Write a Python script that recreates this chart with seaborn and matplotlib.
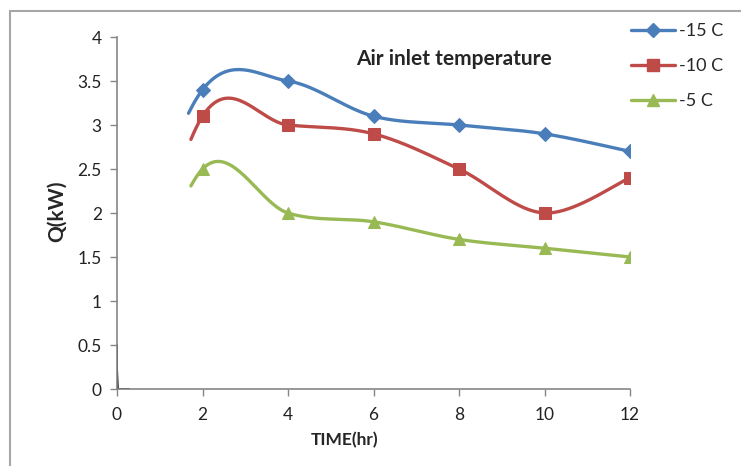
import matplotlib
matplotlib.use("Agg")
import matplotlib.pyplot as plt
from matplotlib.lines import Line2D
from matplotlib.patches import Rectangle
from matplotlib.ticker import FuncFormatter
import seaborn as sns
import numpy as np
import pandas as pd

# data (hidden first point at t=0, the visible curve starts after ~1.65 hr)
time_hr = [0, 2, 4, 6, 8, 10, 12]
q_m15 = [1.0, 3.4, 3.5, 3.1, 3.0, 2.9, 2.7]
q_m10 = [0, 3.1, 3.0, 2.9, 2.5, 2.0, 2.4]
q_m5 = [0, 2.5, 2.0, 1.9, 1.7, 1.6, 1.5]
series_names = ["-15 C", "-10 C", "-5 C"]
visible_from = [1.62, 1.70, 1.69]

# small black stub near the origin
stub_x = [0, 0, 0.02, 0.28]
stub_y = [0.5, 0.25, 0, 0]

colors = ["#4A7EBB", "#BE4B48", "#98B954"]
markers = ["D", "s", "^"]
msizes = [7, 8.5, 9]


def excel_smooth(xs, ys, sx=42.67, sy=88.0, n=40):
    """Bezier smoothing like Excel's 'smoothed line' (tension 1/6), in screen space."""
    P = np.column_stack([np.asarray(xs, float) * sx, np.asarray(ys, float) * sy])
    out = []
    for i in range(len(P) - 1):
        p0 = P[i - 1] if i > 0 else P[i]
        p1, p2 = P[i], P[i + 1]
        p3 = P[i + 2] if i + 2 < len(P) else P[i + 1]
        c1 = p1 + (p2 - p0) / 6.0
        c2 = p2 - (p3 - p1) / 6.0
        t = np.linspace(0, 1, n)[:, None]
        seg = ((1 - t) ** 3) * p1 + 3 * ((1 - t) ** 2) * t * c1 + 3 * (1 - t) * t ** 2 * c2 + t ** 3 * p2
        out.append(seg if i == 0 else seg[1:])
    out = np.vstack(out)
    return out[:, 0] / sx, out[:, 1] / sy


sns.set_style("white")
plt.rcParams["font.family"] = ["Lato", "DejaVu Sans"]

fig = plt.figure(figsize=(7.41, 4.66), dpi=100)
ax = fig.add_axes([117 / 741, 1 - 389 / 466, 513 / 741, 352 / 466])

rows = []
for name, ys, x0 in zip(series_names, [q_m15, q_m10, q_m5], visible_from):
    sxs, sys_ = excel_smooth(time_hr, ys)
    keep = sxs >= x0
    for a, b in zip(sxs[keep], sys_[keep]):
        rows.append({"time": a, "Q": b, "series": name})
curves = pd.DataFrame(rows)

sns.lineplot(data=curves, x="time", y="Q", hue="series", palette=colors,
             sort=False, estimator=None, linewidth=2.4, ax=ax, legend=False)

for name, ys, c, m, ms in zip(series_names, [q_m15, q_m10, q_m5], colors, markers, msizes):
    sns.lineplot(x=time_hr[1:], y=ys[1:], color=c, marker=m, markersize=ms,
                 markeredgecolor=c, linestyle="", ax=ax)

sns.lineplot(x=stub_x, y=stub_y, color="black", linewidth=1.3, sort=False,
             estimator=None, ax=ax)

ax.set_xlim(0, 12)
ax.set_ylim(0, 4)
ax.set_xticks(np.arange(0, 13, 2))
ax.set_yticks(np.arange(0, 4.01, 0.5))
ax.yaxis.set_major_formatter(FuncFormatter(lambda v, p: f"{v:g}"))
for s in ["top", "right"]:
    ax.spines[s].set_visible(False)
for s in ["left", "bottom"]:
    ax.spines[s].set_color("#868686")
    ax.spines[s].set_linewidth(1.2)
ax.tick_params(axis="both", direction="out", length=5, width=1, color="#868686",
               labelsize=12.5, labelcolor="#222222", left=True, bottom=True)
ax.tick_params(axis="x", pad=8)
ax.tick_params(axis="y", pad=6)

ax.set_xlabel("TIME(hr)", fontsize=12.5, fontweight="bold", va="center")
ax.xaxis.set_label_coords((345 - 117) / 513, (389 - 440) / 352)
ax.set_ylabel("Q(kW)", fontsize=15, fontweight="bold", va="center")
ax.yaxis.set_label_coords((57 - 117) / 513, (389 - 211) / 352)

fig.text(454 / 741, 1 - 59 / 466, "Air inlet temperature", fontsize=15,
         fontweight="bold", ha="center", va="center")

handles = [Line2D([], [], color=c, marker=m, markersize=ms * 0.95, lw=2.4)
           for c, m, ms in zip(colors, markers, msizes)]
fig.legend(handles, series_names, loc="upper left",
           bbox_to_anchor=(624 / 741, 1 - 16 / 466), frameon=False,
           fontsize=13, handlelength=2.4, handletextpad=0.25,
           labelspacing=1.05, borderaxespad=0)

fig.add_artist(Rectangle((10 / 741, -0.2), 1.2, 1.2 - 11 / 466, fill=False,
                         transform=fig.transFigure, edgecolor="#a6a6a6", lw=1.5))

fig.savefig("out.png", dpi=100)
